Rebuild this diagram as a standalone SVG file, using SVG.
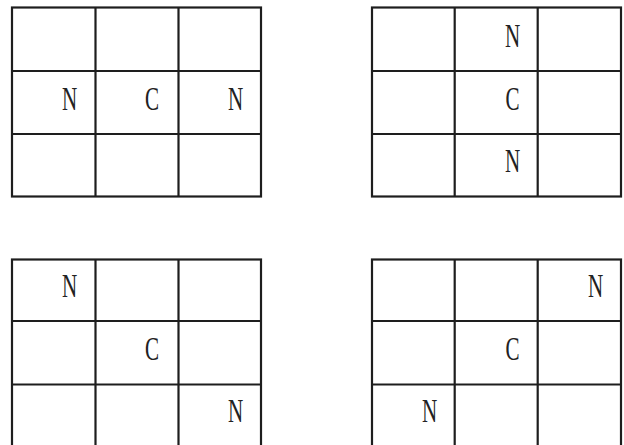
<svg xmlns="http://www.w3.org/2000/svg" width="624" height="445" viewBox="0 0 624 445">
<style>
.g{fill:none;stroke:#1e1e1e;stroke-width:2.2}
.t{font-family:"Liberation Serif",serif;font-size:34px;fill:#222;text-anchor:middle}
</style>
<rect width="624" height="445" fill="#fff"/>
<g id="grid1">
<rect class="g" x="12" y="7.5" width="249" height="189"/>
<path class="g" d="M95.5 7.5V196.5M178.5 7.5V196.5M12 71H261M12 134H261"/>
<text class="t" transform="translate(69.5,109.5) scale(0.62,1)">N</text>
<text class="t" transform="translate(152,109.5) scale(0.62,1)">C</text>
<text class="t" transform="translate(235.5,109.5) scale(0.62,1)">N</text>
</g>
<g id="grid2">
<rect class="g" x="372" y="7.5" width="249" height="189"/>
<path class="g" d="M454.7 7.5V196.5M537.7 7.5V196.5M372 71H621M372 134H621"/>
<text class="t" transform="translate(512.5,46.5) scale(0.62,1)">N</text>
<text class="t" transform="translate(512.5,109.5) scale(0.62,1)">C</text>
<text class="t" transform="translate(512.5,172) scale(0.62,1)">N</text>
</g>
<g id="grid3">
<rect class="g" x="12" y="259.5" width="249" height="189"/>
<path class="g" d="M95.5 259.5V448M178.5 259.5V448M12 321H261M12 384.5H261"/>
<text class="t" transform="translate(69.5,297) scale(0.62,1)">N</text>
<text class="t" transform="translate(152,360) scale(0.62,1)">C</text>
<text class="t" transform="translate(235.5,422) scale(0.62,1)">N</text>
</g>
<g id="grid4">
<rect class="g" x="372" y="259.5" width="249" height="189"/>
<path class="g" d="M454.7 259.5V448M537.7 259.5V448M372 321H621M372 384.5H621"/>
<text class="t" transform="translate(595.5,297) scale(0.62,1)">N</text>
<text class="t" transform="translate(512.5,360) scale(0.62,1)">C</text>
<text class="t" transform="translate(429.5,422) scale(0.62,1)">N</text>
</g>
</svg>
